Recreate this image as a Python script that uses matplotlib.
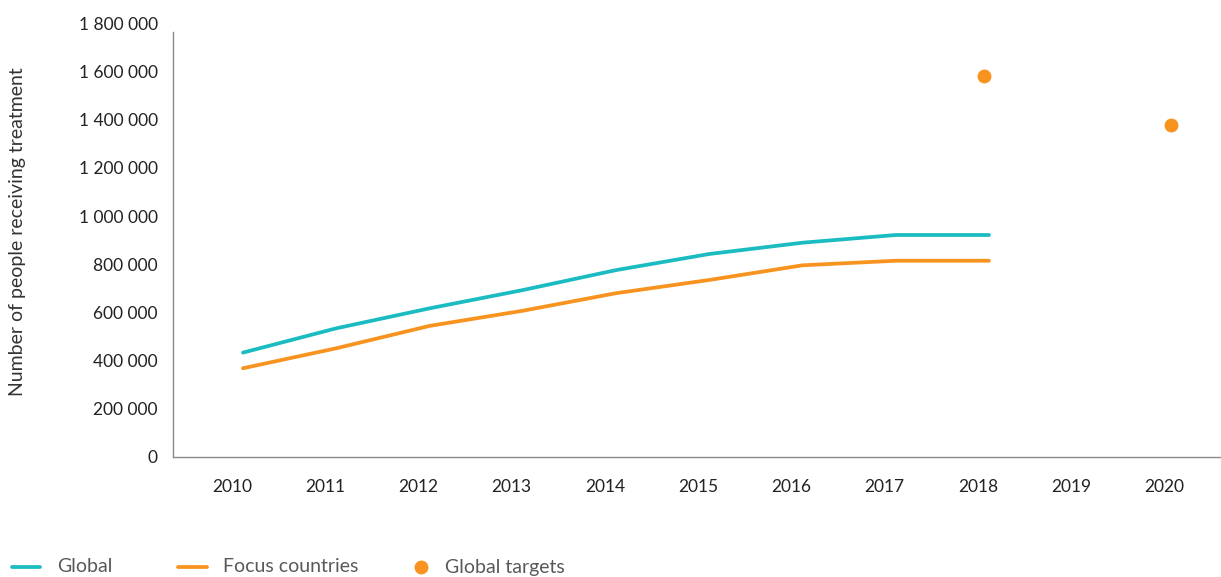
import matplotlib
matplotlib.use("Agg")
import matplotlib.pyplot as plt
import matplotlib.transforms as mtransforms
from matplotlib.lines import Line2D
from matplotlib.ticker import FuncFormatter

plt.rcParams["font.family"] = ["Lato", "DejaVu Sans"]

# data
years = [2010, 2011, 2012, 2013, 2014, 2015, 2016, 2017, 2018]
global_vals = [432000, 533000, 616000, 692000, 775000, 842000, 889000, 921000, 921000]
focus_vals = [367000, 450000, 543000, 606000, 679000, 734000, 795000, 814000, 814000]
target_years = [2018, 2020]
target_vals = [1581000, 1378000]
tick_years = list(range(2010, 2021))
y_ticks = list(range(0, 1800001, 200000))

TEAL = "#1bbcc1"
ORANGE = "#f7931e"

W, H, DPI = 1221, 577, 100
fig = plt.figure(figsize=(W / DPI, H / DPI), dpi=DPI)
ax = fig.add_axes([173 / W, (H - 456.5) / H, (W - 173) / W, (456.5 - 23.6) / H])

ax.plot(years, global_vals, color=TEAL, lw=2.7, solid_capstyle="round")
ax.plot(years, focus_vals, color=ORANGE, lw=2.7, solid_capstyle="round")
dots, = ax.plot(target_years, target_vals, "o", color=ORANGE, ms=10, mec="none")
# target dots are drawn a touch left of the line ends in the original
dots.set_transform(dots.get_transform()
                   + mtransforms.ScaledTranslation(-5 / DPI, 0, fig.dpi_scale_trans))

ax.set_xlim(2010 - 70 / 93.25, 2010 + (W - 243) / 93.25)
ax.set_ylim(0, 1800000)

for s in ("top", "right"):
    ax.spines[s].set_visible(False)
for s in ("left", "bottom"):
    ax.spines[s].set_color("#8a8a8a")
    ax.spines[s].set_linewidth(1.0)
ax.spines["left"].set_bounds(0, 1765000)

ax.set_xticks(tick_years)
ax.set_xticklabels([str(y) for y in tick_years])
ax.set_yticks(y_ticks)
ax.yaxis.set_major_formatter(FuncFormatter(lambda v, p: f"{int(v):,}".replace(",", " ")))
ax.tick_params(axis="both", length=0, labelsize=12.5, colors="#222222")
ax.tick_params(axis="x", pad=16)
ax.tick_params(axis="y", pad=11)

# year labels sit a little left of the data points
shift = mtransforms.ScaledTranslation(-11 / DPI, 0, fig.dpi_scale_trans)
for lab in ax.get_xticklabels():
    lab.set_transform(lab.get_transform() + shift)

fig.text(18 / W, 1 - 232 / H, "Number of people receiving treatment", rotation=90,
         ha="center", va="center", fontsize=14, color="#333333")

# legend along the bottom edge
ly = 1 - 567 / H
fig.add_artist(Line2D([12 / W, 40 / W], [ly, ly], color=TEAL, lw=2.7,
                      solid_capstyle="round", transform=fig.transFigure))
fig.text(57 / W, ly, "Global", va="center", fontsize=14, color="#595959")
fig.add_artist(Line2D([178 / W, 207 / W], [ly, ly], color=ORANGE, lw=2.7,
                      solid_capstyle="round", transform=fig.transFigure))
fig.text(223 / W, ly, "Focus countries", va="center", fontsize=14, color="#595959")
fig.add_artist(Line2D([421 / W], [ly], marker="o", ms=10, color=ORANGE, mec="none",
                      transform=fig.transFigure))
fig.text(445 / W, ly, "Global targets", va="center", fontsize=14, color="#595959")

fig.savefig("out.png", dpi=DPI)
